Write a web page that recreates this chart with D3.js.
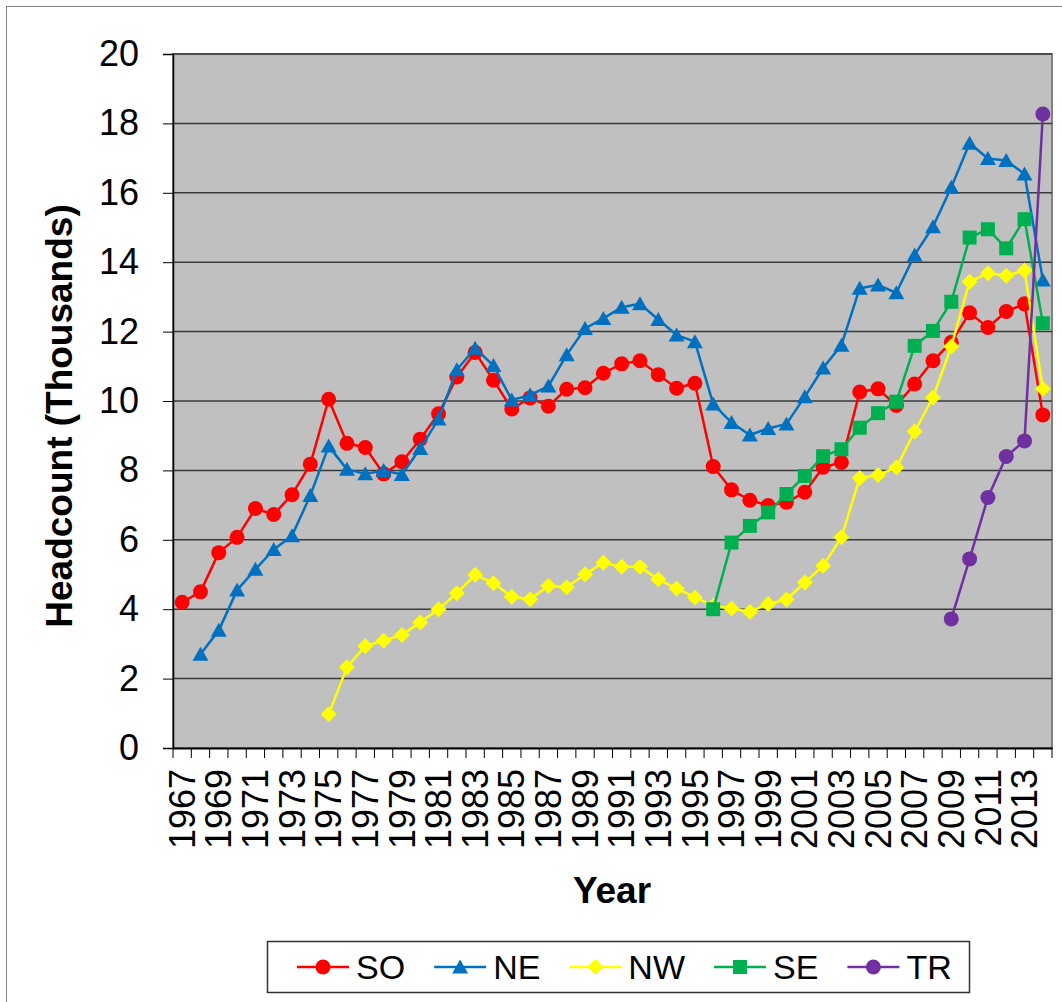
<!DOCTYPE html>
<html lang="en">
<head>
    <meta charset="UTF-8">
    <title>Headcount by Region</title>
    <script src="https://d3js.org/d3.v7.min.js"></script>
    <style>
        * {
            margin: 0;
            padding: 0;
            box-sizing: border-box;
        }
        body {
            background: #fff;
            font-family: "Liberation Sans", Arial, sans-serif;
        }
    </style>
</head>
<body>
    <div id="chart"></div>
    <script>
        const years = [1967, 1968, 1969, 1970, 1971, 1972, 1973, 1974, 1975, 1976,
                       1977, 1978, 1979, 1980, 1981, 1982, 1983, 1984, 1985, 1986,
                       1987, 1988, 1989, 1990, 1991, 1992, 1993, 1994, 1995, 1996,
                       1997, 1998, 1999, 2000, 2001, 2002, 2003, 2004, 2005, 2006,
                       2007, 2008, 2009, 2010, 2011, 2012, 2013, 2014];
        const yearLabels = [1967, 1969, 1971, 1973, 1975, 1977, 1979, 1981, 1983, 1985, 1987, 1989,
                            1991, 1993, 1995, 1997, 1999, 2001, 2003, 2005, 2007, 2009, 2011, 2013];
        const yTicks = [0, 2, 4, 6, 8, 10, 12, 14, 16, 18, 20];

        // headcount in thousands, each series starts at its first year
        const soFirstYear = 1967;
        const soValues = [4.2, 4.5, 5.63, 6.07, 6.9, 6.73, 7.3, 8.18, 10.05, 8.78,
                          8.66, 7.9, 8.25, 8.9, 9.63, 10.69, 11.4, 10.6, 9.77, 10.09,
                          9.85, 10.34, 10.38, 10.8, 11.07, 11.16, 10.76, 10.37, 10.51, 8.11,
                          7.44, 7.14, 6.99, 7.08, 7.37, 8.09, 8.23, 10.26, 10.35, 9.87,
                          10.49, 11.16, 11.69, 12.54, 12.12, 12.58, 12.8, 9.6];

        const neFirstYear = 1968;
        const neValues = [2.7, 3.39, 4.55, 5.15, 5.72, 6.12, 7.28, 8.7, 8.03,
                          7.9, 8.0, 7.88, 8.63, 9.48, 10.9, 11.52, 11.02, 10.03, 10.17,
                          10.43, 11.33, 12.09, 12.38, 12.7, 12.8, 12.35, 11.9, 11.71, 9.91,
                          9.38, 9.02, 9.21, 9.34, 10.12, 10.95, 11.61, 13.25, 13.34, 13.12,
                          14.21, 15.02, 16.16, 17.43, 16.99, 16.93, 16.54, 13.49];

        const nwFirstYear = 1975;
        const nwValues = [0.97, 2.33, 2.94, 3.09, 3.26, 3.62, 4.0, 4.46, 4.99, 4.75, 4.36,
                          4.29, 4.67, 4.63, 5.01, 5.34, 5.22, 5.22, 4.86, 4.6, 4.34, 4.1,
                          4.02, 3.93, 4.15, 4.28, 4.77, 5.25, 6.07, 7.78, 7.87, 8.08,
                          9.12, 10.1, 11.57, 13.44, 13.68, 13.61, 13.76, 10.35];

        const seFirstYear = 1996;
        const seValues = [4.0, 5.92, 6.4, 6.79, 7.32, 7.84, 8.41, 8.61, 9.23, 9.65, 9.98,
                          11.59, 12.02, 12.86, 14.71, 14.95, 14.4, 15.24, 12.24];

        const trFirstYear = 2009;
        const trValues = [3.72, 5.45, 7.22, 8.4, 8.85, 18.27];

        const seriesNames = ["SO", "NE", "NW", "SE", "TR"];
        const seriesColors = ["#ff0000", "#0070c0", "#ffff00", "#00b050", "#7030a0"];
        const seriesMarkers = ["circle", "triangle", "diamond", "square", "circle"];
        const seriesFirstYears = [soFirstYear, neFirstYear, nwFirstYear, seFirstYear, trFirstYear];
        const seriesValues = [soValues, neValues, nwValues, seValues, trValues];

        const series = seriesNames.map((name, i) => ({
            name,
            color: seriesColors[i],
            marker: seriesMarkers[i],
            points: seriesValues[i].map((v, j) => ({ year: seriesFirstYears[i] + j, value: v }))
        }));

        const W = 1062, H = 1002;
        const plot = { left: 173, right: 1052, top: 54, bottom: 748 };
        const font = '"Liberation Sans", Arial, sans-serif';

        const svg = d3.select("#chart")
            .append("svg")
            .attr("width", W)
            .attr("height", H)
            .style("display", "block");

        svg.append("rect")
            .attr("x", 6.5).attr("y", 6.5)
            .attr("width", 1100).attr("height", 1100)
            .attr("fill", "#fff")
            .attr("stroke", "#808080")
            .attr("stroke-width", 1);

        const x = d3.scaleBand()
            .domain(years)
            .range([plot.left, plot.right]);

        const y = d3.scaleLinear()
            .domain([0, 20])
            .range([plot.bottom, plot.top]);

        const cx = yr => x(yr) + x.bandwidth() / 2;

        svg.append("rect")
            .attr("x", plot.left)
            .attr("y", plot.top)
            .attr("width", plot.right - plot.left)
            .attr("height", plot.bottom - plot.top)
            .attr("fill", "#c0c0c0")
            .attr("stroke", "#808080")
            .attr("stroke-width", 2);

        svg.append("g")
            .selectAll("line")
            .data(yTicks.filter(d => d > 0))
            .join("line")
            .attr("x1", plot.left)
            .attr("x2", plot.right)
            .attr("y1", d => y(d))
            .attr("y2", d => y(d))
            .attr("stroke", "#3a3a3a")
            .attr("stroke-width", 1.5);

        // y axis
        const yAxis = svg.append("g")
            .attr("transform", `translate(${plot.left},0)`)
            .call(d3.axisLeft(y).tickValues(yTicks).tickSize(10).tickPadding(24));
        yAxis.select(".domain").attr("stroke", "#000").attr("stroke-width", 1.5);
        yAxis.selectAll(".tick line").attr("stroke", "#000").attr("stroke-width", 1);
        yAxis.selectAll("text")
            .style("font-family", font)
            .style("font-size", "36px")
            .attr("fill", "#000");

        // x axis: ticks between categories, labels on every other year
        const xAxis = svg.append("g")
            .attr("transform", `translate(0,${plot.bottom})`)
            .call(d3.axisBottom(x).tickValues(yearLabels).tickSize(0).tickPadding(0));
        xAxis.select(".domain").attr("stroke", "#000").attr("stroke-width", 2);
        xAxis.selectAll("text")
            .style("font-family", font)
            .style("font-size", "36px")
            .attr("fill", "#000")
            .attr("text-anchor", "end")
            .attr("transform", "rotate(-90)")
            .attr("x", -21)
            .attr("y", 0)
            .attr("dy", "0.35em");

        const boundaries = years.map(d => x(d)).concat([plot.right]);
        xAxis.append("g")
            .selectAll("line")
            .data(boundaries)
            .join("line")
            .attr("x1", d => d)
            .attr("x2", d => d)
            .attr("y1", 0)
            .attr("y2", 10)
            .attr("stroke", "#000")
            .attr("stroke-width", 1);

        svg.append("text")
            .attr("transform", "translate(59,416) rotate(-90)")
            .attr("text-anchor", "middle")
            .attr("dominant-baseline", "central")
            .style("font-family", font)
            .style("font-size", "37px")
            .style("font-weight", "bold")
            .text("Headcount (Thousands)");

        svg.append("text")
            .attr("x", 612)
            .attr("y", 903)
            .attr("text-anchor", "middle")
            .style("font-family", font)
            .style("font-size", "37px")
            .style("font-weight", "bold")
            .text("Year");

        function markerPath(type) {
            if (type === "triangle") return "M0,-7.5L8,6.5L-8,6.5Z";
            if (type === "diamond") return "M0,-8L8,0L0,8L-8,0Z";
            if (type === "square") return "M-7,-7H7V7H-7Z";
            return d3.symbol(d3.symbolCircle, Math.PI * 7.5 * 7.5)();
        }

        const line = d3.line()
            .x(d => cx(d.year))
            .y(d => y(d.value));

        series.forEach(s => {
            const g = svg.append("g");
            g.append("path")
                .datum(s.points)
                .attr("d", line)
                .attr("fill", "none")
                .attr("stroke", s.color)
                .attr("stroke-width", 2.5)
                .attr("stroke-linejoin", "round");
            g.selectAll(".pt")
                .data(s.points)
                .join("path")
                .attr("class", "pt")
                .attr("d", markerPath(s.marker))
                .attr("transform", d => `translate(${cx(d.year)},${y(d.value)})`)
                .attr("fill", s.color);
        });

        // legend
        const legend = svg.append("g");
        legend.append("rect")
            .attr("x", 267.5)
            .attr("y", 941.5)
            .attr("width", 702)
            .attr("height", 51)
            .attr("fill", "#fff")
            .attr("stroke", "#333")
            .attr("stroke-width", 1.5);

        let lx = 297;
        const ly = 967;
        series.forEach(s => {
            const item = legend.append("g").attr("transform", `translate(${lx},${ly})`);
            item.append("line")
                .attr("x1", 0).attr("x2", 52)
                .attr("y1", 0).attr("y2", 0)
                .attr("stroke", s.color)
                .attr("stroke-width", 2.5);
            item.append("path")
                .attr("d", markerPath(s.marker))
                .attr("transform", "translate(26,0)")
                .attr("fill", s.color);
            const t = item.append("text")
                .attr("x", 59)
                .attr("y", 0)
                .attr("dy", "0.35em")
                .style("font-family", font)
                .style("font-size", "34px")
                .text(s.name);
            lx += 59 + t.node().getComputedTextLength() + 29;
        });
    </script>
</body>
</html>
